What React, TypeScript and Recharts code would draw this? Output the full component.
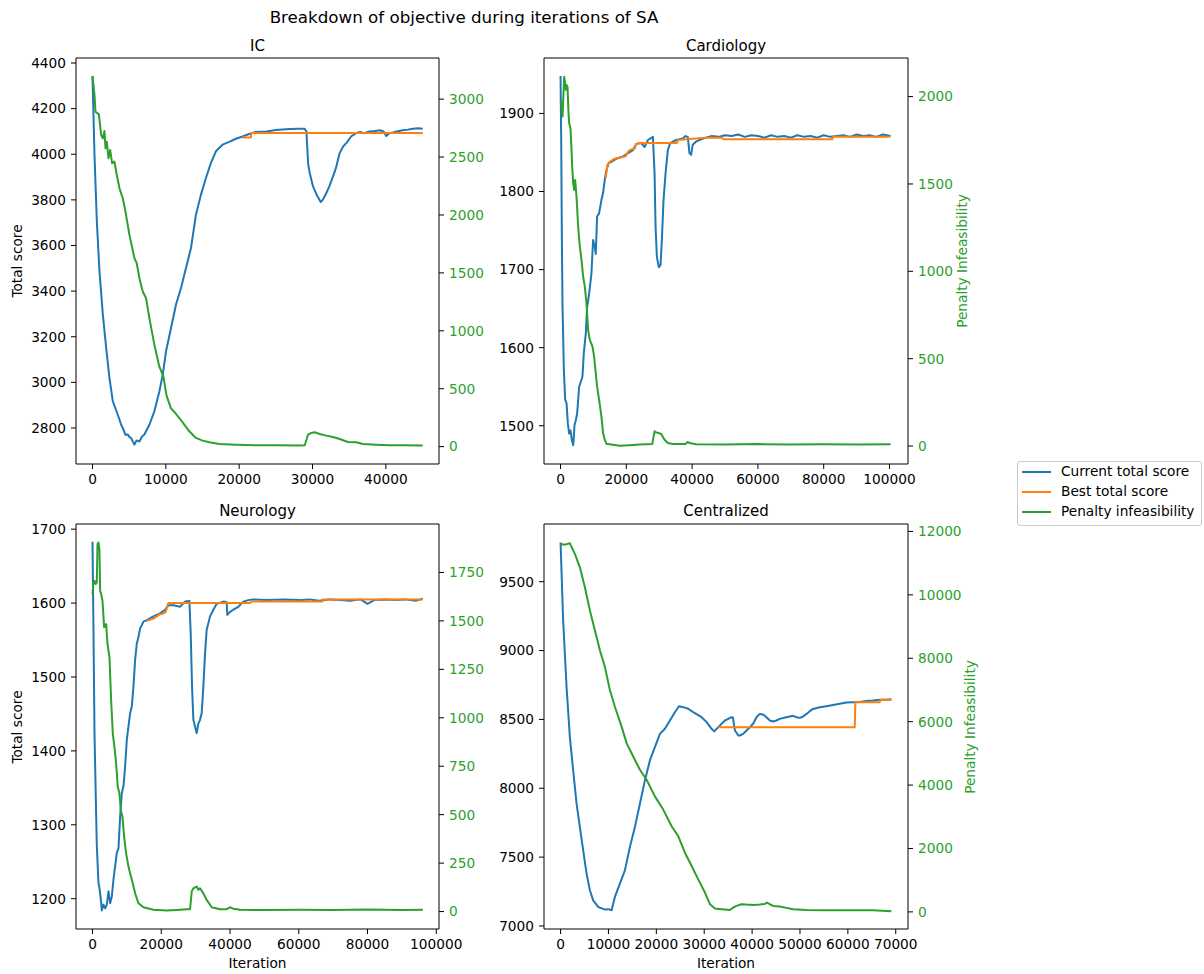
import React from "react";
import { LineChart, Line, XAxis, YAxis, ReferenceLine } from "recharts";

// ---- data: [iteration, value] ----
const icCurrent: number[][] = [
  [0, 4341], [272, 3998], [590, 3706], [952, 3487], [1410, 3297], [1864, 3151], [2313, 3019], [2770, 2917],
  [3450, 2858], [3900, 2815], [4130, 2800], [4500, 2770], [4810, 2771], [5050, 2760], [5265, 2756], [5500, 2740],
  [5714, 2727], [6000, 2745], [6395, 2741], [6700, 2760], [7075, 2771], [7755, 2814], [8435, 2873], [9116, 2960],
  [9578, 3034], [10027, 3136], [10707, 3238], [11388, 3341], [12068, 3414], [12748, 3501], [13429, 3589],
  [14109, 3735], [14789, 3823], [15469, 3896], [16150, 3962], [16830, 4013], [17735, 4042], [18639, 4054],
  [19551, 4068], [20463, 4078], [21361, 4089], [22272, 4098], [23720, 4100], [25000, 4106], [26900, 4111],
  [28000, 4112], [28900, 4112], [29170, 4100], [29400, 3960], [29620, 3918], [30070, 3859], [30600, 3820],
  [31120, 3791], [31400, 3800], [31890, 3830], [32300, 3860], [32800, 3903], [33200, 3940], [33700, 4005],
  [34200, 4035], [34610, 4049], [35290, 4079], [35970, 4093], [36500, 4098], [37000, 4092], [37780, 4100],
  [38500, 4102], [39200, 4105], [39700, 4100], [40050, 4080], [40500, 4092], [40950, 4095], [41500, 4100],
  [42310, 4105], [43000, 4108], [43700, 4112], [44400, 4114], [45030, 4112],
];
const icBest: number[][] = [[20400, 4074], [21600, 4074], [21650, 4093], [45030, 4093]];
const icPenalty: number[][] = [
  [0, 3201], [272, 3034], [408, 2891], [871, 2868], [1184, 2690], [1410, 2661], [1637, 2724], [1773, 2575],
  [1955, 2632], [2181, 2489], [2408, 2561], [2680, 2446], [2997, 2460], [3314, 2345], [3677, 2230], [4130, 2144],
  [4493, 2029], [5037, 1828], [5717, 1627], [6034, 1584], [6397, 1454], [6850, 1339], [7303, 1282], [7755, 1109],
  [8435, 880], [9116, 690], [9660, 606], [10100, 440], [10700, 330], [11300, 290], [11837, 247], [12517, 190],
  [13197, 132], [14107, 75], [15014, 52], [15921, 37], [17282, 23], [19551, 17], [22272, 11], [25000, 12],
  [28260, 9], [28940, 12], [29390, 103], [29850, 118], [30300, 124], [30980, 109], [31890, 95], [32790, 83],
  [33700, 66], [34830, 40], [35970, 37], [36870, 23], [38690, 17], [40500, 11], [42500, 12], [45030, 10],
];

const cardCurrent: number[][] = [
  [0, 1948], [202, 1866], [404, 1738], [606, 1652], [1010, 1571], [1414, 1533], [1818, 1529], [2222, 1503],
  [2626, 1490], [3030, 1494], [3434, 1482], [3838, 1475], [4040, 1486], [4242, 1501], [4646, 1507], [5050, 1516],
  [5656, 1550], [6060, 1555], [6666, 1563], [7070, 1593], [7676, 1618], [8080, 1652], [8686, 1669], [9393, 1695],
  [9898, 1738], [10403, 1729], [10706, 1720], [11110, 1768], [11716, 1772], [12423, 1789], [12928, 1798],
  [13433, 1815], [13938, 1827], [14544, 1836], [15453, 1838], [16968, 1842], [18988, 1845], [20503, 1849],
  [22018, 1853], [23028, 1861], [24543, 1862], [25553, 1857], [26563, 1866], [28078, 1870], [28583, 1823],
  [28886, 1755], [29290, 1716], [29896, 1703], [30401, 1706], [30805, 1738], [31310, 1789], [31916, 1823],
  [32623, 1853], [33330, 1862], [34138, 1864], [35148, 1866], [36158, 1867], [37168, 1868], [37976, 1871],
  [38683, 1870], [39188, 1849], [39693, 1847], [40198, 1860], [41208, 1864], [42218, 1866], [44238, 1869],
  [46000, 1871], [48000, 1870], [50000, 1872], [52000, 1871], [54000, 1873], [56000, 1870], [58000, 1872],
  [60000, 1871], [62000, 1869], [64000, 1872], [66000, 1870], [68000, 1871], [70000, 1869], [72000, 1872],
  [74000, 1870], [76000, 1871], [78000, 1869], [80000, 1872], [82000, 1870], [84000, 1871], [86000, 1872],
  [88000, 1870], [90000, 1873], [92000, 1871], [94000, 1872], [96000, 1870], [98000, 1873], [100300, 1871],
];
const cardBest: number[][] = [
  [13736, 1817], [14241, 1834], [14948, 1838], [16463, 1842], [18483, 1844], [19796, 1845], [20200, 1849],
  [21008, 1853], [22523, 1855], [23028, 1861], [24038, 1862], [35350, 1862], [35653, 1866], [38178, 1867],
  [44238, 1869], [49086, 1869], [49490, 1867], [82618, 1867], [82820, 1870], [100300, 1870],
];
const cardPenalty: number[][] = [
  [0, 1971], [303, 1943], [606, 1886], [808, 1981], [1111, 2114], [1414, 2076], [1616, 2038], [1818, 2067],
  [2121, 2057], [2424, 1905], [2626, 1848], [3030, 1819], [3333, 1695], [3535, 1600], [3838, 1504], [4141, 1466],
  [4444, 1523], [4848, 1428], [5353, 1256], [5858, 1142], [6363, 1066], [6868, 970], [7373, 913], [7878, 818],
  [8383, 665], [8888, 608], [9696, 570], [10201, 513], [10706, 418], [11110, 341], [11716, 265], [12423, 170],
  [12928, 74], [13433, 36], [13938, 13], [15453, 8], [17978, 2], [21000, 5], [24038, 8], [27876, 11],
  [28583, 84], [29088, 78], [29896, 74], [30603, 69], [31613, 36], [32623, 17], [34138, 11], [37976, 11],
  [38683, 23], [39188, 17], [41208, 10], [50000, 9], [60000, 11], [70000, 8], [80000, 10], [90000, 9], [100300, 10],
];

const neuroCurrent: number[][] = [
  [0, 1683], [291, 1559], [581, 1424], [969, 1334], [1259, 1271], [1743, 1221], [2034, 1214], [2421, 1199],
  [2712, 1184], [3196, 1192], [3680, 1187], [4165, 1192], [4649, 1210], [5133, 1194], [5617, 1203], [6102, 1226],
  [6586, 1244], [7070, 1262], [7554, 1268], [8039, 1311], [8523, 1343], [9007, 1352], [9491, 1379], [9976, 1415],
  [10944, 1451], [11428, 1460], [11913, 1487], [12397, 1523], [12881, 1545], [13365, 1554], [13850, 1566],
  [14334, 1570], [14818, 1575], [15787, 1577], [17724, 1582], [19661, 1586], [21114, 1591], [22082, 1597],
  [23535, 1597], [25472, 1595], [26924, 1602], [28183, 1603], [28571, 1559], [28958, 1487], [29346, 1442],
  [29830, 1433], [30314, 1424], [30798, 1437], [31283, 1442], [31767, 1451], [32251, 1487], [32735, 1532],
  [33220, 1564], [34188, 1582], [35157, 1591], [36125, 1599], [38062, 1602], [39031, 1601], [39224, 1584],
  [39999, 1588], [40968, 1591], [42420, 1595], [43873, 1602], [45326, 1604], [46779, 1605], [50653, 1604],
  [55496, 1605], [60338, 1604], [63000, 1605], [66000, 1603], [69000, 1605], [72000, 1604], [75000, 1603],
  [78000, 1605], [80000, 1599], [82000, 1604], [85000, 1605], [88000, 1604], [91000, 1605], [94000, 1603],
  [96100, 1606],
];
const neuroBest: number[][] = [
  [15787, 1576], [17724, 1579], [18692, 1582], [19661, 1585], [20629, 1586], [21307, 1588], [21791, 1597],
  [22082, 1600], [45810, 1600], [46294, 1602], [66900, 1602], [67000, 1605], [96100, 1605],
];
const neuroPenalty: number[][] = [
  [0, 1638], [291, 1699], [581, 1707], [969, 1690], [1259, 1699], [1453, 1896], [1743, 1904], [2034, 1862],
  [2228, 1656], [2518, 1638], [2906, 1604], [3390, 1467], [3971, 1484], [4358, 1381], [4939, 1313], [5424, 1089],
  [5908, 918], [6392, 849], [6876, 763], [7361, 643], [7845, 609], [8232, 523], [8717, 489], [9201, 386],
  [9782, 300], [10460, 232], [10944, 197], [11719, 146], [12397, 94], [13365, 43], [14818, 22], [17724, 9],
  [21598, 5], [24500, 8], [27409, 12], [28377, 12], [28862, 103], [29346, 120], [30314, 129], [30798, 112],
  [31283, 120], [32251, 94], [33220, 60], [34672, 22], [37094, 12], [39031, 12], [39999, 22], [40968, 15],
  [42905, 9], [50000, 8], [60338, 9], [70000, 8], [80000, 10], [90000, 8], [96100, 9],
];

const centCurrent: number[][] = [
  [0, 9785], [543, 9217], [1254, 8734], [1943, 8371], [2633, 8129], [3343, 7888], [4033, 7718], [4722, 7549],
  [5432, 7380], [6122, 7259], [6811, 7186], [7857, 7138], [8500, 7130], [9256, 7119], [10000, 7122],
  [10656, 7114], [11345, 7211], [12390, 7307], [13435, 7404], [14479, 7573], [15524, 7718], [16569, 7888],
  [17613, 8057], [18658, 8202], [19703, 8298], [20748, 8395], [21792, 8432], [22837, 8492], [23882, 8552],
  [24718, 8596], [25616, 8589], [26661, 8577], [28054, 8545], [29448, 8516], [30493, 8480], [31537, 8432],
  [32094, 8413], [32930, 8444], [34328, 8492], [35721, 8516], [36000, 8512], [36420, 8419], [37110, 8383],
  [37434, 8383], [38130, 8395], [38826, 8419], [39521, 8443], [40217, 8468], [40913, 8516], [41609, 8540],
  [42305, 8536], [43000, 8516], [43696, 8492], [44392, 8485], [45088, 8492], [45784, 8504], [47175, 8516],
  [47871, 8521], [48567, 8526], [49263, 8516], [49958, 8511], [50654, 8521], [51350, 8540], [52046, 8560],
  [52742, 8576], [54133, 8588], [55525, 8596], [56916, 8605], [58308, 8613], [59700, 8622], [61091, 8625],
  [62483, 8627], [63874, 8634], [65266, 8637], [66658, 8642], [68049, 8642], [69093, 8647],
];
const centBest: number[][] = [
  [32911, 8443], [61439, 8443], [61578, 8625], [66658, 8625], [66797, 8642], [69093, 8642],
];
const centPenalty: number[][] = [
  [0, 11605], [898, 11584], [1943, 11625], [2988, 11291], [4033, 10870], [5077, 10242], [6122, 9510],
  [7167, 8882], [8211, 8253], [9256, 7729], [10301, 6997], [11345, 6472], [12745, 5844], [13790, 5322],
  [15169, 4901], [16569, 4483], [17969, 4169], [19703, 3644], [21438, 3227], [23193, 2702], [24573, 2388],
  [25972, 1866], [27372, 1445], [28751, 1027], [30151, 609], [31196, 242], [32240, 107], [33640, 85],
  [35374, 63], [36073, 138], [36738, 188], [37782, 241], [38826, 230], [40217, 220], [41609, 230], [42653, 251],
  [43140, 293], [43696, 241], [44392, 188], [45784, 168], [47175, 126], [48567, 84], [51350, 63], [54829, 52],
  [58308, 52], [61787, 52], [65266, 52], [69093, 21],
];

// ---- ticks ----
const icXTicks = [0, 10000, 20000, 30000, 40000];
const wideXTicks = [0, 20000, 40000, 60000, 80000, 100000];
const centXTicks = [0, 10000, 20000, 30000, 40000, 50000, 60000, 70000];
const icLeftTicks = [2800, 3000, 3200, 3400, 3600, 3800, 4000, 4200, 4400];
const icRightTicks = [0, 500, 1000, 1500, 2000, 2500, 3000];
const cardLeftTicks = [1500, 1600, 1700, 1800, 1900];
const cardRightTicks = [0, 500, 1000, 1500, 2000];
const neuroLeftTicks = [1200, 1300, 1400, 1500, 1600, 1700];
const neuroRightTicks = [0, 250, 500, 750, 1000, 1250, 1500, 1750];
const centLeftTicks = [7000, 7500, 8000, 8500, 9000, 9500];
const centRightTicks = [0, 2000, 4000, 6000, 8000, 10000, 12000];

const BLUE = "#1f77b4";
const ORANGE = "#ff7f0e";
const GREEN = "#2ca02c";
const FONT = "'DejaVu Sans', sans-serif";
const TICK = 13.7;
const LW = 70;
const RW = 70;
const BH = 40;
const TM = 14; // room above the plot so top tick labels are not clipped

const toPts = (arr: number[][]) => arr.map(([x, y]) => ({ x, y }));

interface PanelProps {
  box: [number, number, number, number];
  xDomain: [number, number];
  xTicks: number[];
  leftDomain: [number, number];
  leftTicks: number[];
  rightDomain: [number, number];
  rightTicks: number[];
  current: number[][];
  best: number[][];
  penalty: number[][];
}

function Panel({ box, xDomain, xTicks, leftDomain, leftTicks, rightDomain, rightTicks, current, best, penalty }: PanelProps) {
  const [x0, y0, x1, y1] = box;
  const w = x1 - x0 + LW + RW;
  const h = y1 - y0 + BH + TM;
  const lineProps = { dataKey: "y", strokeWidth: 2, dot: false, activeDot: false, strokeLinejoin: "round" as const, isAnimationActive: false };
  return (
    <div style={{ position: "absolute", left: x0 - LW, top: y0 - TM, width: w, height: h }}>
      <LineChart width={w} height={h} margin={{ top: TM, right: 0, bottom: 0, left: 0 }}>
        <XAxis
          type="number"
          dataKey="x"
          domain={xDomain}
          ticks={xTicks}
          allowDataOverflow
          interval={0}
          height={BH}
          stroke="#000"
          tickSize={5}
          tickMargin={5}
          tick={{ fill: "#000", fontSize: TICK }}
        />
        <YAxis
          yAxisId="left"
          type="number"
          domain={leftDomain}
          ticks={leftTicks}
          allowDataOverflow
          interval={0}
          width={LW}
          stroke="#000"
          tickSize={5}
          tickMargin={5}
          tick={{ fill: "#000", fontSize: TICK }}
        />
        <YAxis
          yAxisId="right"
          orientation="right"
          type="number"
          domain={rightDomain}
          ticks={rightTicks}
          allowDataOverflow
          interval={0}
          width={RW}
          stroke="#000"
          tickSize={5}
          tickMargin={5}
          tick={{ fill: GREEN, fontSize: TICK }}
        />
        <ReferenceLine yAxisId="left" y={leftDomain[1]} stroke="#000" strokeWidth={1} />
        <Line yAxisId="left" data={toPts(current)} stroke={BLUE} {...lineProps} />
        <Line yAxisId="left" data={toPts(best)} stroke={ORANGE} {...lineProps} />
        <Line yAxisId="right" data={toPts(penalty)} stroke={GREEN} {...lineProps} />
      </LineChart>
    </div>
  );
}

function Text({ x, y, size, children, color = "#000", rotate = false }: { x: number; y: number; size: number; children: React.ReactNode; color?: string; rotate?: boolean }) {
  return (
    <div
      style={{
        position: "absolute",
        left: x,
        top: y,
        transform: `translate(-50%, -50%)${rotate ? " rotate(-90deg)" : ""}`,
        fontSize: size,
        lineHeight: 1,
        color,
        whiteSpace: "nowrap",
      }}
    >
      {children}
    </div>
  );
}

const legendItems = [
  { label: "Current total score", color: BLUE },
  { label: "Best total score", color: ORANGE },
  { label: "Penalty infeasibility", color: GREEN },
];

export default function App() {
  return (
    <div style={{ position: "absolute", left: 0, top: 0, width: 1204, height: 974, background: "#fff", fontFamily: FONT, overflow: "hidden" }}>
      <Text x={464} y={16.5} size={16.7}>Breakdown of objective during iterations of SA</Text>

      <Panel box={[76, 58, 439, 464]} xDomain={[-2250, 47250]} xTicks={icXTicks} leftDomain={[2642, 4422]} leftTicks={icLeftTicks}
        rightDomain={[-150, 3355]} rightTicks={icRightTicks} current={icCurrent} best={icBest} penalty={icPenalty} />
      <Panel box={[544, 58, 908, 464]} xDomain={[-5030, 105630]} xTicks={wideXTicks} leftDomain={[1451, 1971]} leftTicks={cardLeftTicks}
        rightDomain={[-103, 2221]} rightTicks={cardRightTicks} current={cardCurrent} best={cardBest} penalty={cardPenalty} />
      <Panel box={[76, 524, 439, 929]} xDomain={[-4800, 100800]} xTicks={wideXTicks} leftDomain={[1159, 1707]} leftTicks={neuroLeftTicks}
        rightDomain={[-90, 2000]} rightTicks={neuroRightTicks} current={neuroCurrent} best={neuroBest} penalty={neuroPenalty} />
      <Panel box={[544, 524, 908, 929]} xDomain={[-3460, 72560]} xTicks={centXTicks} leftDomain={[6978, 9919]} leftTicks={centLeftTicks}
        rightDomain={[-540, 12235]} rightTicks={centRightTicks} current={centCurrent} best={centBest} penalty={centPenalty} />

      <Text x={257.5} y={45.5} size={15}>IC</Text>
      <Text x={726} y={45.5} size={15}>Cardiology</Text>
      <Text x={257.5} y={510.5} size={15}>Neurology</Text>
      <Text x={726} y={510.5} size={15}>Centralized</Text>

      <Text x={18.3} y={261} size={TICK} rotate>Total score</Text>
      <Text x={18.3} y={726.5} size={TICK} rotate>Total score</Text>
      <Text x={963.4} y={261} size={TICK} color={GREEN} rotate>Penalty Infeasibility</Text>
      <Text x={971.2} y={726.5} size={TICK} color={GREEN} rotate>Penalty Infeasibility</Text>
      <Text x={257.5} y={964} size={TICK}>Iteration</Text>
      <Text x={726} y={964} size={TICK}>Iteration</Text>

      <div style={{ position: "absolute", left: 1016.5, top: 460.5, width: 185, height: 65, boxSizing: "border-box", border: "1px solid #cccccc", borderRadius: 3 }} />
      {legendItems.map((item, i) => {
        const cy = 472.3 + i * 20;
        return (
          <React.Fragment key={item.label}>
            <div style={{ position: "absolute", left: 1022, top: cy - 1, width: 29, height: 2, background: item.color }} />
            <div style={{ position: "absolute", left: 1061, top: cy, transform: "translateY(-50%)", fontSize: TICK, lineHeight: 1, whiteSpace: "nowrap" }}>
              {item.label}
            </div>
          </React.Fragment>
        );
      })}
    </div>
  );
}
